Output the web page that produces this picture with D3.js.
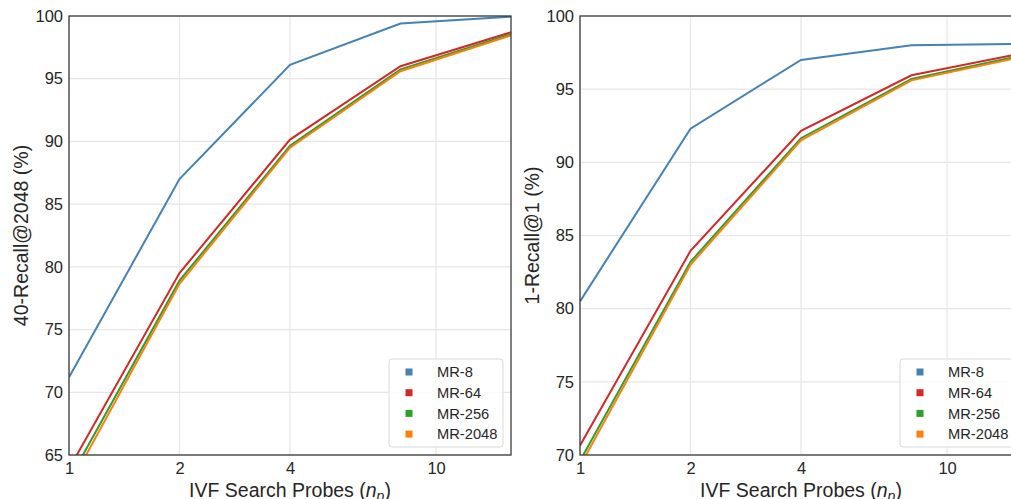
<!DOCTYPE html>
<html>
<head>
<meta charset="utf-8">
<script src="https://cdn.jsdelivr.net/npm/d3@7"></script>
<style>
  body { margin: 0; background: #fff; }
  svg { display: block; font-family: "Liberation Sans", Arial, sans-serif; }
</style>
</head>
<body>
<div id="chart"></div>
<script>
// x values (IVF search probes) and tick labels
const probes = [1, 2, 4, 8, 16];
const xTicks = [1, 2, 4, 10];
const seriesNames = ["MR-8", "MR-64", "MR-256", "MR-2048"];
const seriesColors = ["#4682b4", "#d62728", "#2ca02c", "#ff7f0e"];

// left panel: 40-Recall@2048 (%)
const r40_mr8    = [71.2, 87.0, 96.1, 99.4, 99.95];
const r40_mr64   = [63.9, 79.5, 90.15, 96.0, 98.7];
const r40_mr256  = [63.0, 78.9, 89.65, 95.75, 98.55];
const r40_mr2048 = [62.5, 78.65, 89.5, 95.6, 98.45];
const r40_yTicks = [65, 70, 75, 80, 85, 90, 95, 100];

// right panel: 1-Recall@1 (%)
const r1_mr8    = [80.5, 92.3, 97.0, 98.0, 98.1];
const r1_mr64   = [70.65, 83.95, 92.15, 95.95, 97.45];
const r1_mr256  = [69.6, 83.2, 91.65, 95.7, 97.3];
const r1_mr2048 = [69.25, 83.0, 91.5, 95.6, 97.2];
const r1_yTicks = [70, 75, 80, 85, 90, 95, 100];

const W = 1011, H = 499;
const marginTop = 16, plotH = 439, plotW = 442;

const svg = d3.select("#chart").append("svg")
  .attr("width", W).attr("height", H)
  .style("overflow", "hidden");

function drawPanel(id, left, yDomain, yTicks, series, yLabel) {
  const x = d3.scaleLog().base(2).domain([1, 16]).range([0, plotW]);
  const y = d3.scaleLinear().domain(yDomain).range([plotH, 0]);

  const g = svg.append("g").attr("transform", "translate(" + left + "," + marginTop + ")");

  g.append("clipPath").attr("id", "clip-" + id)
    .append("rect").attr("width", plotW).attr("height", plotH);

  // grid
  g.selectAll(".hgrid").data(yTicks).enter().append("line")
    .attr("x1", 0).attr("x2", plotW)
    .attr("y1", d => y(d)).attr("y2", d => y(d))
    .attr("stroke", "#e6e6e6").attr("stroke-width", 1.2);
  g.selectAll(".vgrid").data(xTicks).enter().append("line")
    .attr("x1", d => x(d)).attr("x2", d => x(d))
    .attr("y1", 0).attr("y2", plotH)
    .attr("stroke", "#e6e6e6").attr("stroke-width", 1.2);

  // lines
  const line = d3.line().x((d, i) => x(probes[i])).y(d => y(d));
  const lg = g.append("g").attr("clip-path", "url(#clip-" + id + ")");
  series.forEach((vals, i) => {
    lg.append("path").datum(vals)
      .attr("d", line)
      .attr("fill", "none")
      .attr("stroke", seriesColors[i])
      .attr("stroke-width", 2);
  });

  // spines
  g.append("rect").attr("width", plotW).attr("height", plotH)
    .attr("fill", "none").attr("stroke", "#333").attr("stroke-width", 1.25);

  // axes
  const xAxis = g.append("g").attr("transform", "translate(0," + plotH + ")")
    .call(d3.axisBottom(x).tickValues(xTicks).tickFormat(d3.format("d")).tickSize(0).tickPadding(7));
  const yAxis = g.append("g")
    .call(d3.axisLeft(y).tickValues(yTicks).tickFormat(d3.format("d")).tickSize(0).tickPadding(6));
  [xAxis, yAxis].forEach(a => {
    a.select(".domain").remove();
    a.selectAll("text").attr("font-size", "16.5px").attr("fill", "#262626")
      .attr("font-family", "Liberation Sans, Arial, sans-serif");
  });

  // axis titles
  const xl = g.append("text")
    .attr("x", plotW / 2).attr("y", 481)
    .attr("text-anchor", "middle").attr("font-size", "19.5px").attr("fill", "#262626");
  xl.append("tspan").text("IVF Search Probes (");
  xl.append("tspan").attr("font-style", "italic").text("n");
  xl.append("tspan").attr("font-style", "italic").attr("font-size", "14px")
    .attr("dy", 4).text("p");
  xl.append("tspan").attr("dy", -4).text(")");

  g.append("text")
    .attr("transform", "rotate(-90)")
    .attr("x", -plotH / 2).attr("y", -41)
    .attr("text-anchor", "middle").attr("font-size", "19.5px").attr("fill", "#262626")
    .text(yLabel);

  // legend
  const leg = g.append("g").attr("transform", "translate(" + (plotW - 122) + "," + (359 - marginTop) + ")");
  leg.append("rect").attr("width", 114).attr("height", 88).attr("rx", 3)
    .attr("fill", "#fff").attr("fill-opacity", 0.85)
    .attr("stroke", "#d9d9d9").attr("stroke-width", 1);
  seriesNames.forEach((name, i) => {
    const cy = 13 + i * 20.7;
    leg.append("rect").attr("x", 16.5).attr("y", cy - 3.5).attr("width", 7).attr("height", 7)
      .attr("fill", seriesColors[i]);
    leg.append("text").attr("x", 48).attr("y", cy).attr("dy", "0.35em")
      .attr("font-size", "14.7px").attr("fill", "#262626").text(name);
  });
}

drawPanel("a", 69, [65, 100], r40_yTicks,
  [r40_mr8, r40_mr64, r40_mr256, r40_mr2048], "40-Recall@2048 (%)");
drawPanel("b", 580, [70, 100], r1_yTicks,
  [r1_mr8, r1_mr64, r1_mr256, r1_mr2048], "1-Recall@1 (%)");
</script>
</body>
</html>
